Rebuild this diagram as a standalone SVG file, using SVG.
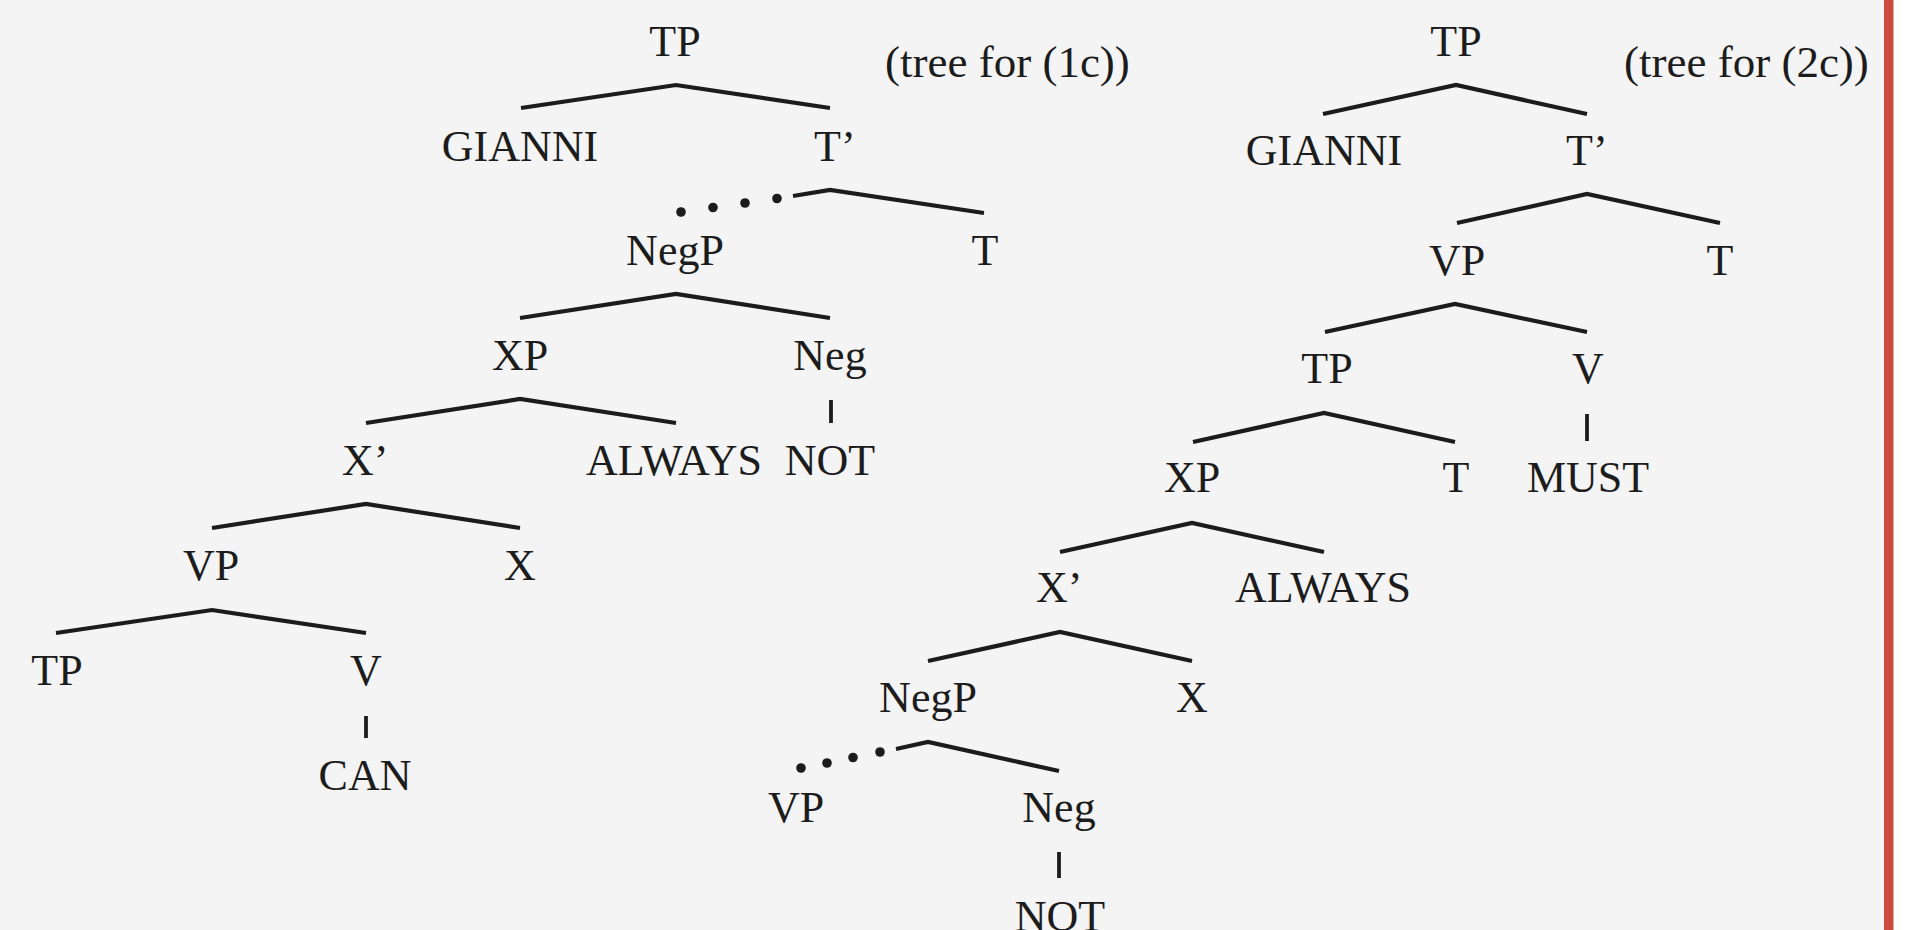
<svg xmlns="http://www.w3.org/2000/svg" width="1905" height="930" viewBox="0 0 1905 930">
<style>
text{font-family:"Liberation Serif","Times New Roman",serif;font-size:44px;fill:#1c1c1c;text-anchor:middle}
text.s{text-anchor:start}
text.l{font-size:45px}
.e{fill:none;stroke:#1c1c1c;stroke-width:4.2;stroke-linejoin:miter}
.k{fill:none;stroke:#1c1c1c;stroke-width:3.8}
.d{fill:#1c1c1c}
</style>
<rect x="0" y="0" width="1905" height="930" fill="#f4f4f4"/>
<rect x="1893" y="0" width="12" height="930" fill="#ffffff"/>
<rect x="1884" y="0" width="9.5" height="930" fill="#cd4a3f"/>
<g id="connectors">
<polyline class="e" points="521,108 676,85 830,108"/>
<polyline class="e" points="793,196 830,190 984,213"/>
<circle class="d" cx="681" cy="212" r="4.8"/>
<circle class="d" cx="713" cy="207.5" r="4.8"/>
<circle class="d" cx="745" cy="203" r="4.8"/>
<circle class="d" cx="777" cy="198.5" r="4.8"/>
<polyline class="e" points="520,318 676,294 830,318"/>
<polyline class="e" points="366,423 520,399 676,423"/>
<polyline class="e" points="212,528 366,504 520,528"/>
<polyline class="e" points="56,633 212,610 366,633"/>
<line class="k" x1="831" y1="400" x2="831" y2="423"/>
<line class="k" x1="366" y1="716" x2="366" y2="738"/>
<polyline class="e" points="1323,114 1456,85 1587,114"/>
<polyline class="e" points="1457,223 1587,194 1720,223"/>
<polyline class="e" points="1325,332 1455,304 1587,332"/>
<polyline class="e" points="1193,442 1324,413 1455,442"/>
<line class="k" x1="1587" y1="414" x2="1587" y2="441"/>
<polyline class="e" points="1060,552 1192,523 1324,552"/>
<polyline class="e" points="928,661 1060,632 1192,661"/>
<polyline class="e" points="896,749 928,742 1059,771"/>
<circle class="d" cx="801" cy="768" r="4.8"/>
<circle class="d" cx="827" cy="763" r="4.8"/>
<circle class="d" cx="853" cy="757.5" r="4.8"/>
<circle class="d" cx="880" cy="752" r="4.8"/>
<line class="k" x1="1059" y1="852" x2="1059" y2="878"/>
</g>
<g id="tree1c">
<g id="t1-tp"><text x="675" y="56">TP</text></g>
<g id="t1-label"><text class="s l" x="885" y="77">(tree for (1c))</text></g>
<g id="t1-gianni"><text x="520" y="161">GIANNI</text></g>
<g id="t1-tbar"><text class="s" x="814" y="161">T’</text></g>
<g id="t1-negp"><text x="675" y="265">NegP</text></g>
<g id="t1-t"><text x="985" y="265">T</text></g>
<g id="t1-xp"><text x="520" y="370">XP</text></g>
<g id="t1-neg"><text x="830" y="370">Neg</text></g>
<g id="t1-xbar"><text class="s" x="342" y="475">X’</text></g>
<g id="t1-always"><text x="674" y="475">ALWAYS</text></g>
<g id="t1-not"><text x="830" y="475">NOT</text></g>
<g id="t1-vp"><text x="211" y="580">VP</text></g>
<g id="t1-x"><text x="520" y="580">X</text></g>
<g id="t1-tp2"><text x="57" y="685">TP</text></g>
<g id="t1-v"><text x="366" y="685">V</text></g>
<g id="t1-can"><text x="365" y="790">CAN</text></g>
</g>
<g id="tree2c">
<g id="t2-tp"><text x="1456" y="56">TP</text></g>
<g id="t2-label"><text class="s l" x="1624" y="77">(tree for (2c))</text></g>
<g id="t2-gianni"><text x="1324" y="165">GIANNI</text></g>
<g id="t2-tbar"><text class="s" x="1566" y="165">T’</text></g>
<g id="t2-vp"><text x="1457" y="275">VP</text></g>
<g id="t2-t"><text x="1720" y="275">T</text></g>
<g id="t2-tp2"><text x="1327" y="383">TP</text></g>
<g id="t2-v"><text x="1588" y="383">V</text></g>
<g id="t2-xp"><text x="1192" y="492">XP</text></g>
<g id="t2-t2"><text x="1456" y="492">T</text></g>
<g id="t2-must"><text x="1588" y="492">MUST</text></g>
<g id="t2-xbar"><text class="s" x="1036" y="602">X’</text></g>
<g id="t2-always"><text x="1323" y="602">ALWAYS</text></g>
<g id="t2-negp"><text x="928" y="712">NegP</text></g>
<g id="t2-x"><text x="1192" y="712">X</text></g>
<g id="t2-vp2"><text x="796" y="822">VP</text></g>
<g id="t2-neg"><text x="1059" y="822">Neg</text></g>
<g id="t2-not"><text x="1060" y="931">NOT</text></g>
</g>
</svg>
